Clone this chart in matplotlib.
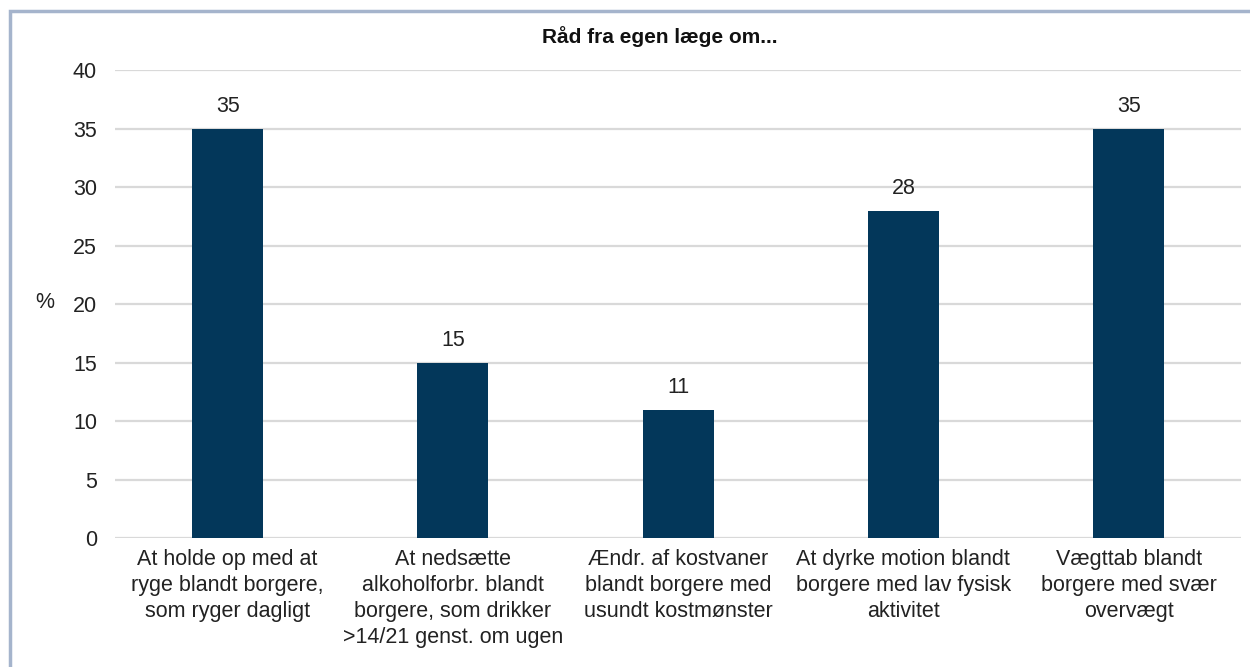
import matplotlib
matplotlib.use('Agg')
import matplotlib.pyplot as plt
import matplotlib.patches as mpatches
import numpy as np

plt.rcParams['font.family'] = ['Liberation Sans', 'DejaVu Sans']

categories = [
    'At holde op med at\nryge blandt borgere,\nsom ryger dagligt',
    'At nedsætte\nalkoholforbr. blandt\nborgere, som drikker\n>14/21 genst. om ugen',
    'Ændr. af kostvaner\nblandt borgere med\nusundt kostmønster',
    'At dyrke motion blandt\nborgere med lav fysisk\naktivitet',
    'Vægttab blandt\nborgere med svær\novervægt',
]
values = [35, 15, 11, 28, 35]
yticks = [0, 5, 10, 15, 20, 25, 30, 35, 40]
title = 'Råd fra egen læge om...'

BAR_COLOR = '#03375a'
GRID_COLOR = '#d9d9d9'
TEXT_COLOR = '#222222'
FS = 15.5

fig = plt.figure(figsize=(12.5, 6.67), dpi=100)
ax = fig.add_axes([0.092, 0.193, 0.901, 0.702])

x = np.arange(len(categories))
ax.bar(x, values, width=0.316, color=BAR_COLOR, zorder=3)
for xi, v in zip(x, values):
    ax.text(xi, v + 1.0, f'{v}', ha='center', va='bottom', fontsize=FS, color=TEXT_COLOR)

ax.set_xlim(-0.5, len(categories) - 0.5)
ax.set_ylim(0, 40)
ax.set_yticks(yticks)
ax.set_yticklabels([str(t) for t in yticks], fontsize=FS, color=TEXT_COLOR)
ax.set_xticks(x)
ax.set_xticklabels(categories, fontsize=FS, color=TEXT_COLOR, linespacing=1.3)
ax.tick_params(axis='x', length=0, pad=8)
ax.tick_params(axis='y', length=0, pad=13)
ax.yaxis.grid(True, color=GRID_COLOR, linewidth=1.6, zorder=0)
for sp in ax.spines.values():
    sp.set_visible(False)

fig.text(45 / 1250, 1 - 303 / 667, '%', fontsize=FS, color=TEXT_COLOR, ha='center', va='center')
fig.text(0.528, 1 - 37 / 667, title, fontsize=15, fontweight='bold', ha='center', va='center',
         color='#111111')

# outer frame, only the top and left edges fall inside the canvas
frame = mpatches.Rectangle((9.5 / 1250, -0.2), 1.2, 1.2 - 10.5 / 667,
                           transform=fig.transFigure, fill=False,
                           edgecolor='#a5b4cc', linewidth=2.5)
fig.patches.append(frame)

fig.savefig('out.png', dpi=100)
